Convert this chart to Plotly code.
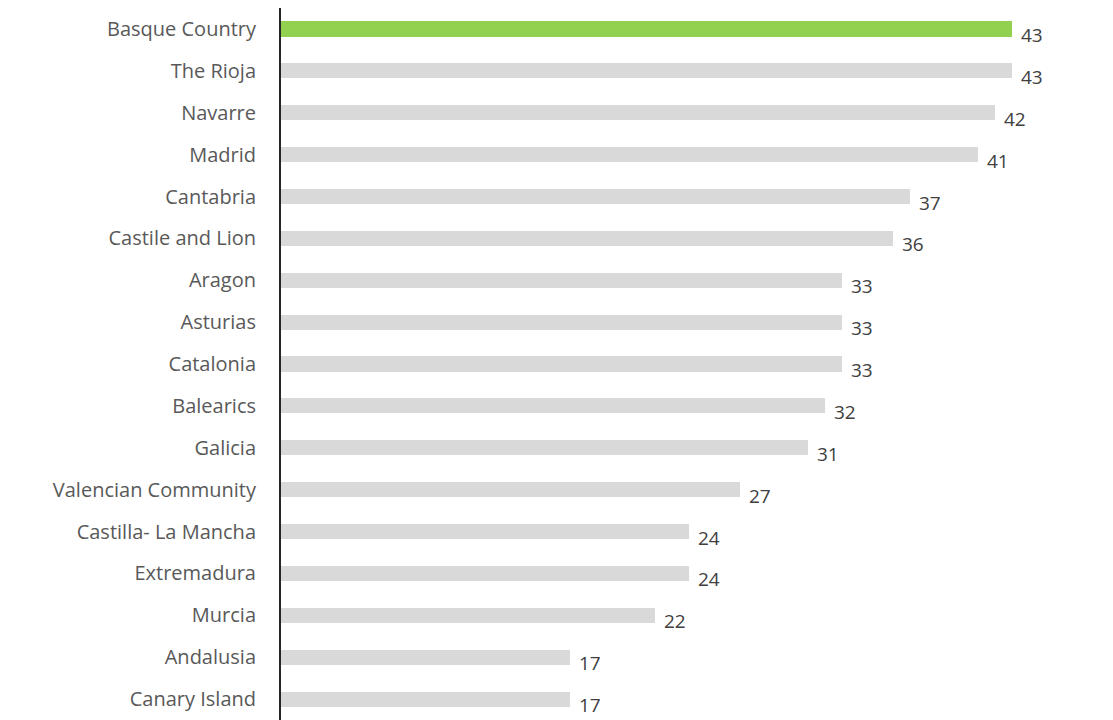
import plotly.graph_objects as go

regions = ["Basque Country", "The Rioja", "Navarre", "Madrid", "Cantabria",
           "Castile and Lion", "Aragon", "Asturias", "Catalonia", "Balearics",
           "Galicia", "Valencian Community", "Castilla- La Mancha", "Extremadura",
           "Murcia", "Andalusia", "Canary Island"]
values = [43, 43, 42, 41, 37, 36, 33, 33, 33, 32, 31, 27, 24, 24, 22, 17, 17]
highlight = "Basque Country"

colors = ["#92D050" if r == highlight else "#D9D9D9" for r in regions]

fig = go.Figure(go.Bar(
    x=values, y=regions, orientation="h",
    marker=dict(color=colors, line=dict(width=0)),
    width=0.36, hoverinfo="skip",
))

for r, v in zip(regions, values):
    fig.add_annotation(x=v, y=r, text=str(v), showarrow=False,
                       xanchor="left", yanchor="middle", xshift=7, yshift=-6,
                       font=dict(family="Open Sans, sans-serif", size=19, color="#404040"))

fig.update_layout(
    width=1105, height=712,
    margin=dict(l=273, r=16, t=0, b=0),
    paper_bgcolor="white", plot_bgcolor="white",
    showlegend=False,
    font=dict(family="Open Sans, sans-serif", size=20, color="#595959"),
    bargap=0,
)
fig.update_xaxes(range=[0, 48], visible=False, showgrid=False, zeroline=False)
fig.update_yaxes(autorange="reversed", showline=True, linecolor="#262626", linewidth=2,
                 showgrid=False, ticks="", ticklabelstandoff=19, automargin=False,
                 tickfont=dict(family="Open Sans, sans-serif", size=20, color="#595959"))

fig.write_html("out.html")
